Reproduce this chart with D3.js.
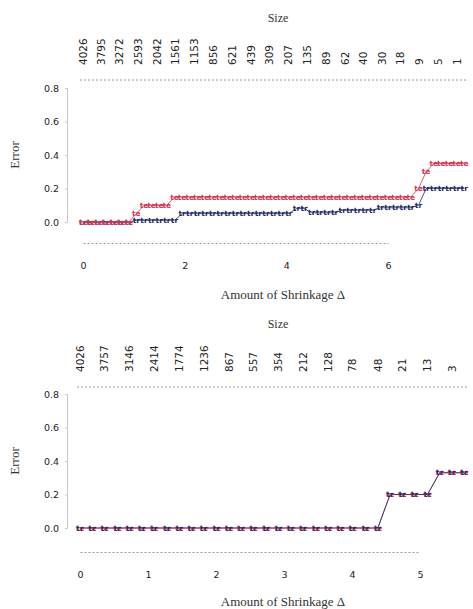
<!DOCTYPE html>
<html>
<head>
<meta charset="utf-8">
<script src="https://cdn.jsdelivr.net/npm/d3@7"></script>
<style>
  html, body { margin: 0; padding: 0; background: #fff; }
  svg { display: block; }
</style>
</head>
<body>
<svg id="chart" width="473" height="609"></svg>
<script>
// ---- Panel 1: cross-validation error vs. shrinkage threshold ----
const deltaTop = [0.00, 0.15, 0.30, 0.45, 0.60, 0.75, 0.90, 1.05, 1.20, 1.35,
  1.50, 1.65, 1.80, 1.95, 2.10, 2.25, 2.40, 2.55, 2.70, 2.85,
  3.00, 3.15, 3.30, 3.45, 3.60, 3.75, 3.90, 4.05, 4.20, 4.35,
  4.50, 4.65, 4.80, 4.95, 5.10, 5.25, 5.40, 5.55, 5.70, 5.85,
  6.00, 6.15, 6.30, 6.45, 6.60, 6.75, 6.90, 7.05, 7.20, 7.35, 7.50];
const teTop = [0, 0, 0, 0, 0, 0, 0, 0.05, 0.10, 0.10,
  0.10, 0.10, 0.15, 0.15, 0.15, 0.15, 0.15, 0.15, 0.15, 0.15,
  0.15, 0.15, 0.15, 0.15, 0.15, 0.15, 0.15, 0.15, 0.15, 0.15,
  0.15, 0.15, 0.15, 0.15, 0.15, 0.15, 0.15, 0.15, 0.15, 0.15,
  0.15, 0.15, 0.15, 0.15, 0.20, 0.30, 0.35, 0.35, 0.35, 0.35, 0.35];
const trTop = [0, 0, 0, 0, 0, 0, 0, 0.01, 0.01, 0.01,
  0.01, 0.01, 0.01, 0.05, 0.05, 0.05, 0.05, 0.05, 0.05, 0.05,
  0.05, 0.05, 0.05, 0.05, 0.05, 0.05, 0.05, 0.05, 0.08, 0.08,
  0.055, 0.055, 0.055, 0.055, 0.07, 0.07, 0.07, 0.07, 0.07, 0.085,
  0.085, 0.085, 0.085, 0.085, 0.10, 0.20, 0.20, 0.20, 0.20, 0.20, 0.20];
const sizeTopAt = [0.00, 0.35, 0.72, 1.09, 1.46, 1.82, 2.19, 2.56, 2.93, 3.30,
  3.67, 4.04, 4.41, 4.78, 5.15, 5.51, 5.88, 6.25, 6.62, 6.99, 7.36];
const sizeTopLabels = ["4026", "3795", "3272", "2593", "2042", "1561", "1153", "856", "621", "439",
  "309", "207", "135", "89", "62", "40", "30", "18", "9", "5", "1"];
const xTicksTop = [0, 2, 4, 6];

// ---- Panel 2 ----
const deltaBot = [0.00, 0.18, 0.36, 0.55, 0.73, 0.91, 1.09, 1.28, 1.46, 1.64,
  1.82, 2.01, 2.19, 2.37, 2.55, 2.74, 2.92, 3.10, 3.28, 3.47,
  3.65, 3.83, 4.01, 4.20, 4.38, 4.56, 4.74, 4.92, 5.11, 5.29, 5.47, 5.65];
const teBot = [0, 0, 0, 0, 0, 0, 0, 0, 0, 0,
  0, 0, 0, 0, 0, 0, 0, 0, 0, 0,
  0, 0, 0, 0, 0, 0.20, 0.20, 0.20, 0.20, 0.33, 0.33, 0.33];
const trBot = [0, 0, 0, 0, 0, 0, 0, 0, 0, 0,
  0, 0, 0, 0, 0, 0, 0, 0, 0, 0,
  0, 0, 0, 0, 0, 0.20, 0.20, 0.20, 0.20, 0.33, 0.33, 0.33];
const sizeBotAt = [0.00, 0.36, 0.73, 1.09, 1.46, 1.82, 2.19, 2.55, 2.92, 3.28,
  3.65, 4.01, 4.38, 4.74, 5.11, 5.47];
const sizeBotLabels = ["4026", "3757", "3146", "2414", "1774", "1236", "867", "557", "354", "212",
  "128", "78", "48", "21", "13", "3"];
const xTicksBot = [0, 1, 2, 3, 4, 5];

const yTicks = [0, 0.2, 0.4, 0.6, 0.8];

const RED = "#d4344f";
const BLUE = "#1c2a66";
const SERIF = "'Liberation Serif', 'DejaVu Serif', serif";
const SANS = "'DejaVu Sans', sans-serif";

const svg = d3.select("#chart");

function drawPanel(p) {
  const g = svg.append("g");
  const x = d3.scaleLinear().domain(p.xDomain).range(p.xRange);
  const y = d3.scaleLinear().domain([0, 0.8]).range(p.yRange);

  // "Size" heading
  g.append("text")
    .attr("x", 278).attr("y", p.sizeTitleY)
    .attr("text-anchor", "middle")
    .attr("font-family", SERIF).attr("font-size", 12).attr("fill", "#333")
    .text("Size");

  // top axis: number of genes kept at each threshold
  const topY = p.yRange[1] - p.topGap;
  g.append("line")
    .attr("x1", x(p.delta[0]) - 3).attr("x2", x(p.delta[p.delta.length - 1]) + 4)
    .attr("y1", topY).attr("y2", topY)
    .attr("stroke", "#9a9a9a").attr("stroke-width", 1).attr("stroke-dasharray", "2,2");
  const labs = g.selectAll("g.size-lab").data(p.sizeAt).join("g")
    .attr("class", "size-lab")
    .attr("transform", (d) => "translate(" + x(d) + "," + (topY - 15) + ")");
  labs.append("text")
    .attr("transform", "rotate(-90)")
    .attr("x", 0).attr("y", 0)
    .attr("dy", "0.36em")
    .attr("text-anchor", "start")
    .attr("font-family", SANS).attr("font-size", 10.5).attr("fill", "#222")
    .text((d, i) => p.sizeLabels[i]);

  // y axis
  const yAxis = d3.axisLeft(y).tickValues(yTicks).tickFormat(d3.format(".1f"))
    .tickSize(2).tickPadding(6);
  const ya = g.append("g").attr("transform", "translate(67,0)").call(yAxis);
  ya.select(".domain").attr("stroke", "#c8c8c8");
  ya.selectAll(".tick line").attr("stroke", "#c8c8c8");
  ya.selectAll(".tick text").attr("font-family", SANS).attr("font-size", 9.5).attr("fill", "#222");

  // x axis
  const xAxis = d3.axisBottom(x).tickValues(p.xTicks).tickFormat(d3.format("d"))
    .tickSize(0).tickPadding(19).tickSizeOuter(0);
  const xa = g.append("g").attr("transform", "translate(0," + p.xAxisY + ")").call(xAxis);
  xa.select(".domain").attr("stroke", "#9a9a9a").attr("stroke-dasharray", "2,2");
  xa.selectAll(".tick text").attr("font-family", SANS).attr("font-size", 9.5).attr("fill", "#222");

  g.append("text")
    .attr("x", 283).attr("y", p.xLabelY)
    .attr("text-anchor", "middle")
    .attr("font-family", SERIF).attr("font-size", 13).attr("fill", "#333")
    .text("Amount of Shrinkage Δ");

  g.append("text")
    .attr("transform", "translate(19," + ((p.yRange[0] + p.yRange[1]) / 2) + ") rotate(-90)")
    .attr("text-anchor", "middle")
    .attr("font-family", SERIF).attr("font-size", 13).attr("fill", "#333")
    .text("Error");

  // error curves with text markers
  const series = [
    { vals: p.tr, color: BLUE, mark: "tr" },
    { vals: p.te, color: RED, mark: "te" }
  ];
  if (p.redBelow) series.reverse();
  series.forEach((s) => {
    const line = d3.line().x((d, i) => x(p.delta[i])).y((d) => y(d));
    g.append("path").datum(s.vals)
      .attr("d", line).attr("fill", "none")
      .attr("stroke", s.color).attr("stroke-width", 0.8);
  });
  series.forEach((s) => {
    g.append("g").selectAll("text").data(s.vals).join("text")
      .attr("x", (d, i) => x(p.delta[i]))
      .attr("y", (d) => y(d))
      .attr("dy", "0.35em")
      .attr("text-anchor", "middle")
      .attr("font-family", SANS).attr("font-weight", "bold")
      .attr("font-size", 7.5).attr("fill", s.color)
      .text(s.mark);
  });
}

drawPanel({
  delta: deltaTop, te: teTop, tr: trTop,
  sizeAt: sizeTopAt, sizeLabels: sizeTopLabels, xTicks: xTicksTop,
  xDomain: [0, 6], xRange: [83, 388], yRange: [222, 88],
  sizeTitleY: 22, topGap: 8, xAxisY: 243, xLabelY: 299
});

drawPanel({
  delta: deltaBot, te: teBot, tr: trBot,
  sizeAt: sizeBotAt, sizeLabels: sizeBotLabels, xTicks: xTicksBot,
  xDomain: [0, 5], xRange: [80, 420], yRange: [528, 394],
  sizeTitleY: 328, topGap: 7, xAxisY: 552, xLabelY: 606, redBelow: true
});
</script>
</body>
</html>
